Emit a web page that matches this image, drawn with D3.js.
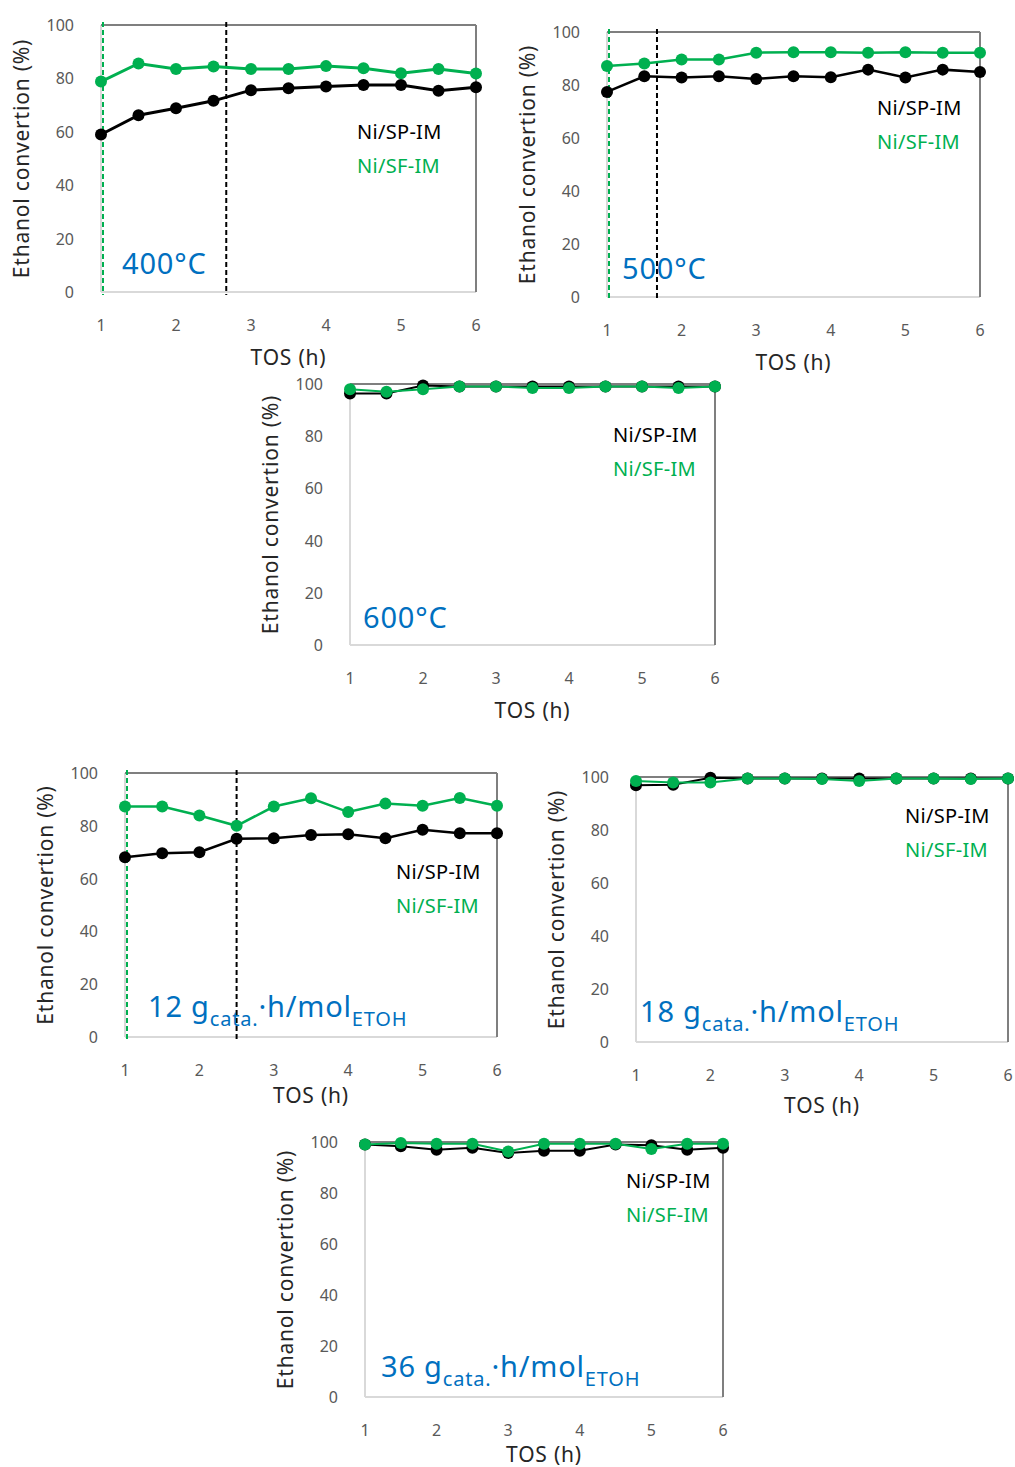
<!DOCTYPE html>
<html>
<head>
<meta charset="utf-8">
<script src="https://cdn.jsdelivr.net/npm/d3@7"></script>
<style>
  body { margin: 0; background: #fff; }
  svg { display: block; font-family: "Noto Sans", "Open Sans", sans-serif; }
</style>
</head>
<body>
<svg></svg>
<script>
// time on stream (h) for every panel
const tos = [1, 1.5, 2, 2.5, 3, 3.5, 4, 4.5, 5, 5.5, 6];
const xTicks = [1, 2, 3, 4, 5, 6];
const yTicks = [0, 20, 40, 60, 80, 100];

// Ni/SP-IM (black) and Ni/SF-IM (green), ethanol conversion %
const sp400 = [59, 66.2, 68.8, 71.6, 75.6, 76.3, 77, 77.5, 77.5, 75.4, 76.7];
const sf400 = [78.8, 85.6, 83.5, 84.5, 83.5, 83.5, 84.6, 83.8, 81.9, 83.5, 81.8];
const sp500 = [77.4, 83.3, 82.8, 83.3, 82.3, 83.3, 82.9, 85.8, 82.8, 85.8, 84.9];
const sf500 = [87.2, 88.1, 89.6, 89.6, 92.2, 92.4, 92.4, 92.2, 92.4, 92.2, 92.2];
const sp600 = [96.4, 96.4, 99.4, 99, 99, 99, 99, 99, 99, 99, 99];
const sf600 = [98, 97, 98, 99, 99, 98.5, 98.5, 99, 99, 98.5, 99];
const sp12 = [68.1, 69.6, 70, 75.1, 75.3, 76.5, 76.8, 75.3, 78.5, 77.2, 77.2];
const sf12 = [87.3, 87.3, 83.9, 80, 87.3, 90.4, 85.2, 88.4, 87.6, 90.5, 87.6];
const sp18 = [96.9, 97.1, 99.7, 99.4, 99.4, 99.4, 99.4, 99.4, 99.4, 99.4, 99.4];
const sf18 = [98.5, 97.9, 97.9, 99.4, 99.4, 99.2, 98.5, 99.4, 99.4, 99.2, 99.4];
const sp36 = [99, 98.3, 97, 97.7, 95.7, 96.6, 96.6, 99, 98.7, 97, 97.7];
const sf36 = [99, 99.6, 99.3, 99.3, 96.3, 99.3, 99.3, 99.3, 97.3, 99.3, 99.3];

// dashed markers (TOS values)
const dash400 = [1, 2.67];
const dash500 = [1, 1.67];
const dash12 = [1, 2.5];

const green = "#00b050", blue = "#0070c0", grey = "#595959";

const panels = [
  { sp: sp400, sf: sf400, dashes: dash400, x: 101, y: 25, w: 375, h: 267,
    legX: 357, legY: 131, titleDy: 65, ann: ["400°C"], annX: 122, annY: 274, lw: 3 },
  { sp: sp500, sf: sf500, dashes: dash500, x: 607, y: 32, w: 373, h: 265,
    legX: 877, legY: 107, titleDy: 65, ann: ["500°C"], annX: 622, annY: 279, lw: 2.5 },
  { sp: sp600, sf: sf600, dashes: [], x: 350, y: 384, w: 365, h: 261,
    legX: 613, legY: 434, titleDy: 65, ann: ["600°C"], annX: 363, annY: 628, lw: 2 },
  { sp: sp12, sf: sf12, dashes: dash12, x: 125, y: 773, w: 372, h: 264,
    legX: 396, legY: 871, titleDy: 58, ann: ["12 g", "cata.", "·h/mol", "ETOH"], annX: 148, annY: 1017, lw: 2.5 },
  { sp: sp18, sf: sf18, dashes: [], x: 636, y: 777, w: 372, h: 265,
    legX: 905, legY: 815, titleDy: 63, ann: ["18 g", "cata.", "·h/mol", "ETOH"], annX: 640, annY: 1022, lw: 2 },
  { sp: sp36, sf: sf36, dashes: [], x: 365, y: 1142, w: 358, h: 255,
    legX: 626, legY: 1180, titleDy: 57, ann: ["36 g", "cata.", "·h/mol", "ETOH"], annX: 381, annY: 1377, lw: 2 }
];

const svg = d3.select("svg").attr("width", 1015).attr("height", 1467);

panels.forEach(function(p) {
  const g = svg.append("g").attr("transform", "translate(" + p.x + "," + p.y + ")");
  const x = d3.scaleLinear().domain([1, 6]).range([0, p.w]);
  const y = d3.scaleLinear().domain([0, 100]).range([p.h, 0]);

  // frame: light left/bottom, darker top/right
  g.append("line").attr("x1", 0).attr("x2", 0).attr("y1", 0).attr("y2", p.h)
    .attr("stroke", "#d9d9d9").attr("stroke-width", 2);
  g.append("line").attr("x1", 0).attr("x2", p.w).attr("y1", p.h).attr("y2", p.h)
    .attr("stroke", "#d9d9d9").attr("stroke-width", 2);
  g.append("line").attr("x1", 0).attr("x2", p.w).attr("y1", 0).attr("y2", 0)
    .attr("stroke", "#7f7f7f").attr("stroke-width", 2);
  g.append("line").attr("x1", p.w).attr("x2", p.w).attr("y1", 0).attr("y2", p.h)
    .attr("stroke", "#7f7f7f").attr("stroke-width", 2);

  // tick labels
  g.selectAll(".yt").data(yTicks).join("text")
    .attr("x", -27).attr("y", d => y(d))
    .attr("text-anchor", "end").attr("dominant-baseline", "central")
    .attr("font-size", 16).attr("fill", grey).text(d => d);
  g.selectAll(".xt").data(xTicks).join("text")
    .attr("x", d => x(d)).attr("y", p.h + 33)
    .attr("text-anchor", "middle").attr("dominant-baseline", "central")
    .attr("font-size", 16).attr("fill", grey).text(d => d);

  // axis titles
  g.append("text").attr("x", p.w / 2).attr("y", p.h + p.titleDy)
    .attr("text-anchor", "middle").attr("dominant-baseline", "central")
    .attr("font-size", 21).attr("letter-spacing", 0.8)
    .attr("fill", "#262626").text("TOS (h)");
  g.append("text")
    .attr("transform", "translate(-80," + (p.h / 2) + ") rotate(-90)")
    .attr("text-anchor", "middle").attr("dominant-baseline", "central")
    .attr("font-size", 21).attr("letter-spacing", 0.8)
    .attr("fill", "#262626").text("Ethanol convertion (%)");

  // dashed verticals
  g.selectAll(".dash").data(p.dashes).join("line")
    .attr("x1", d => x(d) + (d === 1 ? 2 : 0)).attr("x2", d => x(d) + (d === 1 ? 2 : 0))
    .attr("y1", -3).attr("y2", p.h + 3)
    .attr("stroke", (d, i) => i === 0 ? green : "#000")
    .attr("stroke-width", 2).attr("stroke-dasharray", "5,3");

  // series
  const line = d3.line().x((d, i) => x(tos[i])).y(d => y(d));
  [[p.sp, "#000"], [p.sf, green]].forEach(function(s) {
    g.append("path").datum(s[0]).attr("d", line)
      .attr("fill", "none").attr("stroke", s[1]).attr("stroke-width", p.lw);
    g.selectAll(null).data(s[0]).join("circle")
      .attr("cx", (d, i) => x(tos[i])).attr("cy", d => y(d))
      .attr("r", 6).attr("fill", s[1]);
  });

  // legend
  svg.append("text").attr("x", p.legX).attr("y", p.legY)
    .attr("dominant-baseline", "central").attr("font-size", 20).attr("letter-spacing", 0.3)
    .attr("fill", "#000").text("Ni/SP-IM");
  svg.append("text").attr("x", p.legX).attr("y", p.legY + 34)
    .attr("dominant-baseline", "central").attr("font-size", 20).attr("letter-spacing", 0.3)
    .attr("fill", green).text("Ni/SF-IM");

  // condition label
  const t = svg.append("text").attr("x", p.annX).attr("y", p.annY)
    .attr("font-size", 29).attr("letter-spacing", 0.8).attr("fill", blue);
  if (p.ann.length === 1) {
    t.text(p.ann[0]);
  } else {
    t.append("tspan").text(p.ann[0]);
    t.append("tspan").attr("font-size", 20).attr("dy", 9).text(p.ann[1]);
    t.append("tspan").attr("dy", -9).text(p.ann[2]);
    t.append("tspan").attr("font-size", 20).attr("dy", 9).text(p.ann[3]);
  }
});
</script>
</body>
</html>
